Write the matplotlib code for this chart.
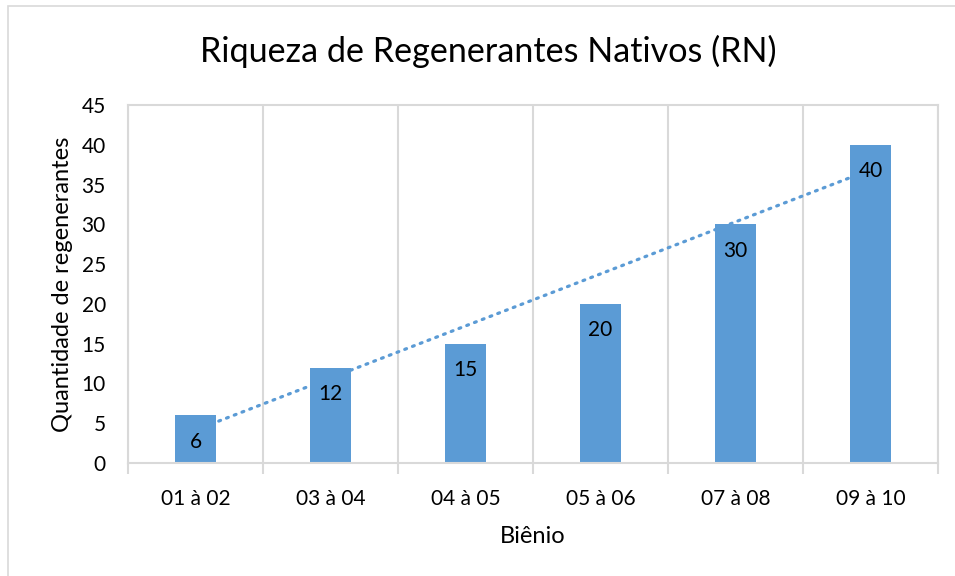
import numpy as np
import matplotlib.pyplot as plt
from matplotlib.patches import Rectangle

plt.rcParams['font.family'] = ['Lato', 'DejaVu Sans']

bienios = ['01 à 02', '03 à 04', '04 à 05', '05 à 06', '07 à 08', '09 à 10']
riqueza = [6, 12, 15, 20, 30, 40]

azul = '#5b9bd5'
cinza = '#d9d9d9'

fig = plt.figure(figsize=(9.55, 5.76), dpi=100)
ax = fig.add_axes([128 / 955, 113 / 576, 810 / 955, 358 / 576])

x = np.arange(1, len(bienios) + 1)
ax.bar(x, riqueza, width=0.31, color=azul, zorder=2)

# linha de tendencia linear (como no Excel)
coef = np.polyfit(x, riqueza, 1)
ax.plot(x, np.polyval(coef, x), color=azul, lw=2.3, linestyle=(0, (0.6, 2.0)),
        dash_capstyle='round', zorder=3)

for xi, v in zip(x, riqueza):
    ax.annotate(str(v), (xi, v), xytext=(0, -19), textcoords='offset points',
                ha='center', va='center', fontsize=15, color='black', zorder=4)

ax.set_xlim(0.5, len(bienios) + 0.5)
ax.set_ylim(0, 45)
ax.set_yticks(range(0, 46, 5))
ax.set_xticks(x)
ax.set_xticklabels(bienios)
ax.set_xticks(np.arange(0.5, len(bienios) + 1, 1), minor=True)
ax.tick_params(axis='x', which='major', length=0, pad=19, labelsize=15)
ax.tick_params(axis='x', which='minor', length=8, width=1.5, color=cinza)
ax.tick_params(axis='y', length=0, pad=16, labelsize=15)
ax.grid(axis='x', which='minor', color=cinza, lw=1.5, zorder=0)
for s in ax.spines.values():
    s.set_color(cinza)
    s.set_linewidth(1.5)

ax.set_xlabel('Biênio', fontsize=17, labelpad=12)
ax.set_ylabel('Quantidade de regenerantes', fontsize=17, labelpad=6)

fig.text(488 / 955, 1 - 51 / 576, 'Riqueza de Regenerantes Nativos (RN)',
         ha='center', va='center', fontsize=24.6)

# borda externa do grafico
fig.patches.append(Rectangle((8 / 955, -0.02), 1.0, 1 - 6 / 576 + 0.02,
                             transform=fig.transFigure, fill=False,
                             edgecolor=cinza, lw=1.2))

fig.savefig('out.png', dpi=100)
